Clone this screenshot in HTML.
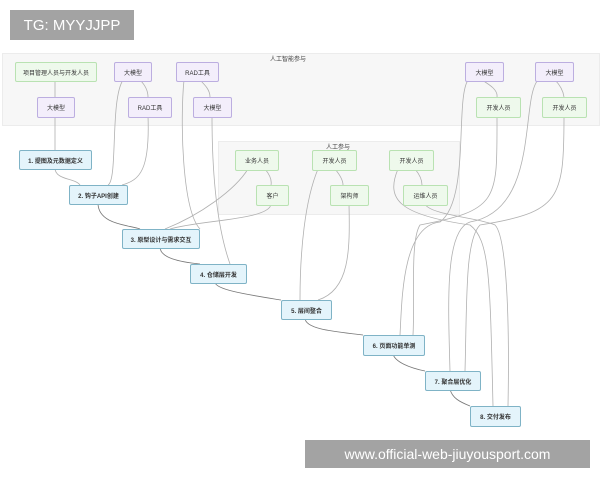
<!DOCTYPE html>
<html><head><meta charset="utf-8"><style>
body{margin:0;width:600px;height:480px;background:#fff;overflow:hidden;position:relative;font-family:"Liberation Sans","Noto Sans CJK SC",sans-serif}
.n{position:absolute;font-size:6px;display:flex;align-items:center;justify-content:center;border-radius:2px;color:#333}
.g{background:#eef9ec;border:1px solid #b9e2b2}
.p{background:#f3eefb;border:1px solid #bcaee0}
.b{background:#e4f4fb;border:1px solid #7fb3c6;font-weight:bold}
.c{position:absolute;background:#f7f7f7;border:1px solid #ececec}
.wm{position:absolute;background:#a3a3a3;color:#fff;display:flex;align-items:center;justify-content:center}
</style></head><body>
<div class="c" style="left:2px;top:53px;width:596px;height:71px"></div>
<div class="c" style="left:218px;top:141px;width:240px;height:72px"></div>
<div style="position:absolute;left:270px;top:54px;font-size:6px;color:#444">人工智能参与</div>
<div style="position:absolute;left:326px;top:142px;font-size:6px;color:#444">人工参与</div>
<svg style="position:absolute;left:0;top:0" width="600" height="480" fill="none" stroke="#b0b0b0" stroke-width="0.8">
<path d="M55 80V97M55 116V150M55 168C55 180 75 178 80 185"/>
<path d="M123 80C110 100 118 180 108 185M140 80C145 85 148 90 148 97M148 116C150 170 140 180 122 185"/>
<path d="M184 80C180 120 182 210 200 229M200 80C205 85 210 90 210 97M212 116C212 180 218 230 230 264"/>
<path stroke="#777" d="M98 203C98 225 130 225 140 229M160 247C160 258 180 262 200 264M215 282C215 290 250 295 281 300M305 318C305 330 340 332 363 335M393 354C395 362 410 368 425 371M450 389C452 398 460 402 470 406"/>
<path d="M248 169C235 190 200 215 165 229M265 169C270 175 272 180 271 185M271 204C270 220 200 220 170 229"/>
<path d="M318 169C305 200 300 250 300 300M335 169C340 175 343 180 343 185M349 204C350 250 350 290 318 300"/>
<path d="M398 169C385 200 400 215 470 225C490 240 490 280 493 406M415 169C420 175 422 180 422 185M425 204C430 215 480 218 495 225C505 235 510 300 508 406"/>
<path d="M468 80C455 100 470 200 440 222C402 226 402 300 400 335M482 80C490 85 498 90 497 97M497 116C497 200 500 210 420 225C410 240 415 300 413 335"/>
<path d="M538 80C520 100 540 210 470 222C445 230 448 300 450 371M555 80C560 85 563 90 564 97M564 116C564 200 560 212 480 225C465 240 467 300 465 371"/>
</svg>
<div class="n g" style="left:15px;top:62px;width:80px;height:18px">项目管理人员与开发人员</div>
<div class="n p" style="left:114px;top:62px;width:36px;height:18px">大模型</div>
<div class="n p" style="left:176px;top:62px;width:41px;height:18px">RAD工具</div>
<div class="n p" style="left:465px;top:62px;width:37px;height:18px">大模型</div>
<div class="n p" style="left:535px;top:62px;width:37px;height:18px">大模型</div>
<div class="n p" style="left:37px;top:97px;width:36px;height:19px">大模型</div>
<div class="n p" style="left:128px;top:97px;width:42px;height:19px">RAD工具</div>
<div class="n p" style="left:193px;top:97px;width:37px;height:19px">大模型</div>
<div class="n g" style="left:476px;top:97px;width:43px;height:19px">开发人员</div>
<div class="n g" style="left:542px;top:97px;width:43px;height:19px">开发人员</div>
<div class="n g" style="left:235px;top:150px;width:42px;height:19px">业务人员</div>
<div class="n g" style="left:256px;top:185px;width:31px;height:19px">客户</div>
<div class="n g" style="left:312px;top:150px;width:43px;height:19px">开发人员</div>
<div class="n g" style="left:330px;top:185px;width:37px;height:19px">架构师</div>
<div class="n g" style="left:389px;top:150px;width:43px;height:19px">开发人员</div>
<div class="n g" style="left:403px;top:185px;width:43px;height:19px">运维人员</div>
<div class="n b" style="left:19px;top:150px;width:71px;height:18px">1. 提图及元数据定义</div>
<div class="n b" style="left:69px;top:185px;width:57px;height:18px">2. 钩子API创建</div>
<div class="n b" style="left:122px;top:229px;width:76px;height:18px">3. 原型设计与需求交互</div>
<div class="n b" style="left:190px;top:264px;width:55px;height:18px">4. 仓储层开发</div>
<div class="n b" style="left:281px;top:300px;width:49px;height:18px">5. 层间整合</div>
<div class="n b" style="left:363px;top:335px;width:60px;height:19px">6. 页面功能单测</div>
<div class="n b" style="left:425px;top:371px;width:54px;height:18px">7. 聚合层优化</div>
<div class="n b" style="left:470px;top:406px;width:49px;height:19px">8. 交付发布</div>
<div class="wm" style="left:10px;top:10px;width:124px;height:30px;font-size:15px">TG: MYYJJPP</div>
<div class="wm" style="left:305px;top:440px;width:285px;height:28px;font-size:14px">www.official-web-jiuyousport.com</div>
</body></html>
